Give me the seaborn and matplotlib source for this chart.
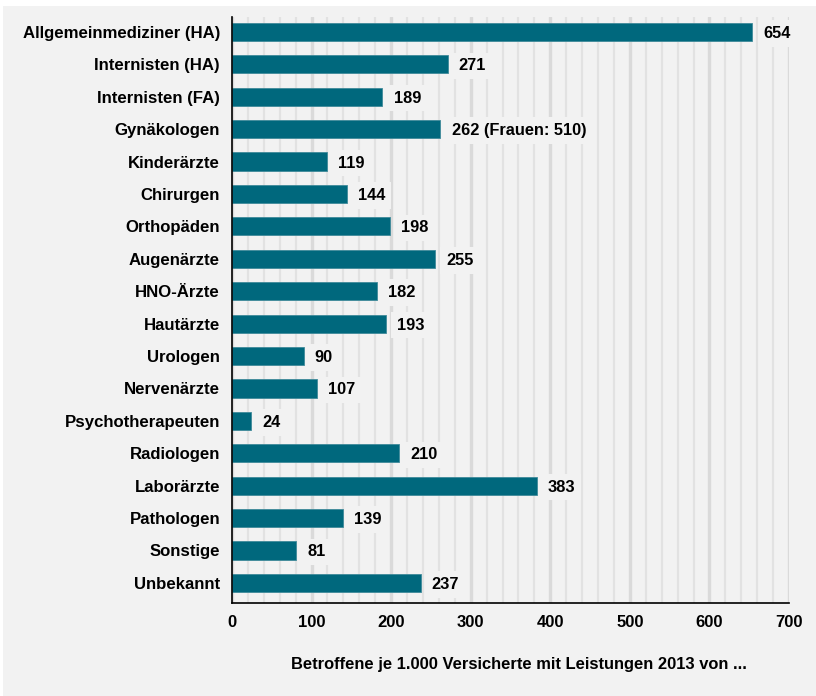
import matplotlib
matplotlib.use("Agg")
import matplotlib.pyplot as plt
import seaborn as sns
import pandas as pd
from matplotlib.patches import Rectangle
from matplotlib.ticker import MultipleLocator

categories = ["Allgemeinmediziner (HA)", "Internisten (HA)", "Internisten (FA)", "Gynäkologen",
              "Kinderärzte", "Chirurgen", "Orthopäden", "Augenärzte", "HNO-Ärzte", "Hautärzte",
              "Urologen", "Nervenärzte", "Psychotherapeuten", "Radiologen", "Laborärzte",
              "Pathologen", "Sonstige", "Unbekannt"]
values = [654, 271, 189, 262, 119, 144, 198, 255, 182, 193, 90, 107, 24, 210, 383, 139, 81, 237]
value_labels = ["654", "271", "189", "262 (Frauen: 510)", "119", "144", "198", "255", "182", "193",
                "90", "107", "24", "210", "383", "139", "81", "237"]
xlabel = "Betroffene je 1.000 Versicherte mit Leistungen 2013 von ..."

df = pd.DataFrame({"cat": categories, "val": values})

sns.set_style("white")
plt.rcParams["font.family"] = ["Liberation Sans", "DejaVu Sans"]
plt.rcParams["font.weight"] = "bold"
plt.rcParams["text.color"] = "black"
plt.rcParams["axes.labelcolor"] = "black"
plt.rcParams["xtick.color"] = "black"
plt.rcParams["ytick.color"] = "black"

BG = "#f2f2f2"
fig = plt.figure(figsize=(8.16, 6.96), dpi=100, facecolor="white")
fig.patches.append(Rectangle((3 / 816, 0), 1, 1 - 6 / 696, transform=fig.transFigure,
                             facecolor=BG, edgecolor="none", zorder=-10))
ax = fig.add_axes([232 / 816, 1 - 603 / 696, (789 - 232) / 816, (603 - 17) / 696])
ax.set_facecolor(BG)

sns.barplot(data=df, x="val", y="cat", orient="h", color="#00687d", saturation=1,
            width=0.56, edgecolor="#3f8a9a", linewidth=0.6, ax=ax, zorder=3)

ax.set_xlim(0, 700)
ax.set_ylim(17.62, -0.46)
ax.xaxis.set_major_locator(MultipleLocator(100))
ax.xaxis.set_minor_locator(MultipleLocator(20))
ax.grid(which="minor", axis="x", color="#e2e2e2", linewidth=1.6, zorder=0)
ax.grid(which="major", axis="x", color="#dadada", linewidth=2.4, zorder=0)
ax.set_axisbelow(True)

for s in ["top", "right"]:
    ax.spines[s].set_visible(False)
for s in ["left", "bottom"]:
    ax.spines[s].set_color("black")
    ax.spines[s].set_linewidth(1.2)
    ax.spines[s].set_zorder(5)

ax.tick_params(axis="x", which="major", direction="out", length=5, width=1, color="black",
               labelsize=12, pad=3.5, labelcolor="black")
ax.tick_params(axis="x", which="minor", length=0)
ax.tick_params(axis="y", length=0, labelsize=12.1, pad=8.6, labelcolor="black")
for lab in ax.get_xticklabels() + ax.get_yticklabels():
    lab.set_fontweight("bold")

for i, (v, t) in enumerate(zip(values, value_labels)):
    ax.text(v + 14, i, t, va="center_baseline", ha="left", fontsize=11.8, fontweight="bold",
            color="black", zorder=6,
            bbox=dict(boxstyle="square,pad=0.35", facecolor=BG, edgecolor="none"))

ax.set_ylabel("")
ax.set_xlabel(xlabel, fontsize=11.9, fontweight="bold", color="black")
ax.xaxis.set_label_coords((519 - 232) / 557, -(664 - 603) / 586)
ax.xaxis.label.set_va("center")

fig.savefig("out.png", dpi=100, facecolor=fig.get_facecolor())
